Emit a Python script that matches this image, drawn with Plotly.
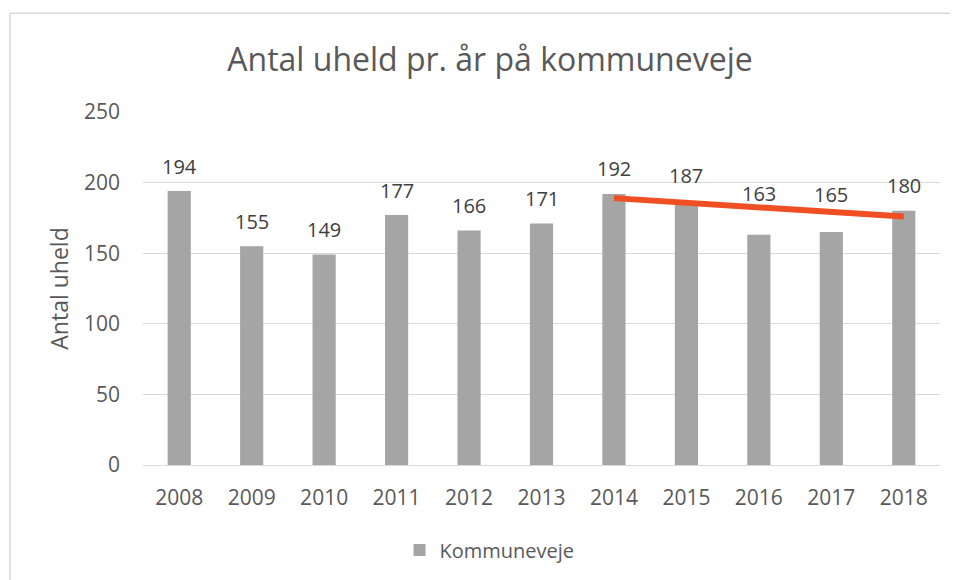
import plotly.graph_objects as go

years = ["2008", "2009", "2010", "2011", "2012", "2013", "2014", "2015", "2016", "2017", "2018"]
accidents = [194, 155, 149, 177, 166, 171, 192, 187, 163, 165, 180]
trend_years = ["2014", "2018"]
trend_values = [189, 176]
y_ticks = [0, 50, 100, 150, 200, 250]

FONT = "Open Sans"
TXT = "#595959"

# page body has an 8px margin -> figure is offset by 8px
W, H = 950, 572
L, R, T, B = 135, 18, 104, 114
PW, PH = W - L - R, H - T - B

# label offsets above the bars (px); two labels lifted clear of the trend line
LABEL_SHIFT = 25
label_lift = {"2016": 41, "2017": 38}

fig = go.Figure()
fig.add_trace(go.Bar(
    x=years, y=accidents, name="Kommuneveje",
    marker=dict(color="#A5A5A5", line=dict(width=0)),
    showlegend=True,
))
fig.add_trace(go.Scatter(
    x=trend_years, y=trend_values, mode="lines",
    line=dict(color="#F04E23", width=6),
    showlegend=False, hoverinfo="skip",
))

for i, (yr, v) in enumerate(zip(years, accidents)):
    fig.add_annotation(x=i, y=v, xref="x", yref="y", text=str(v), showarrow=False,
                       yshift=label_lift.get(yr, LABEL_SHIFT),
                       font=dict(family=FONT, size=20, color="#404040"))

fig.update_layout(
    width=W, height=H,
    margin=dict(l=L, r=R, t=T, b=B),
    paper_bgcolor="white", plot_bgcolor="white",
    bargap=0.68,
    title=dict(text="Antal uheld pr. år på kommuneveje", x=(490 - 8 - L) / PW, xanchor="center",
               xref="paper", y=1 - (60 - 8) / H, yanchor="middle",
               font=dict(family=FONT, size=32, color=TXT)),
    font=dict(family=FONT, color=TXT),
    xaxis=dict(type="category", range=[-0.5, len(years) - 0.5], showgrid=False, showline=True,
               linecolor="#D9D9D9", linewidth=1,
               tickfont=dict(family=FONT, size=21, color=TXT), ticks="", ticklabelstandoff=14),
    yaxis=dict(range=[0, 250], tickvals=y_ticks, showgrid=True, gridcolor="#D9D9D9",
               gridwidth=1, zeroline=False, showline=False,
               tickfont=dict(family=FONT, size=21, color=TXT), ticks="",
               ticklabelstandoff=22,
               title=dict(text="Antal uheld", font=dict(family=FONT, size=23, color=TXT), standoff=8)),
    legend=dict(orientation="h", x=0.5 - 52 / PW, xanchor="center", y=-(550 - 8 - (T + PH)) / PH,
                yanchor="middle", font=dict(family=FONT, size=20, color=TXT)),
    shapes=[dict(type="rect", xref="paper", yref="paper",
                 x0=(10 - 8 - L) / PW, x1=(975 - 8 - L) / PW,
                 y0=-(600 - 8 - (T + PH)) / PH, y1=1 + (T - (13 - 8)) / PH,
                 line=dict(color="#D9D9D9", width=1.5), layer="below")],
)

fig.write_html("out.html")
